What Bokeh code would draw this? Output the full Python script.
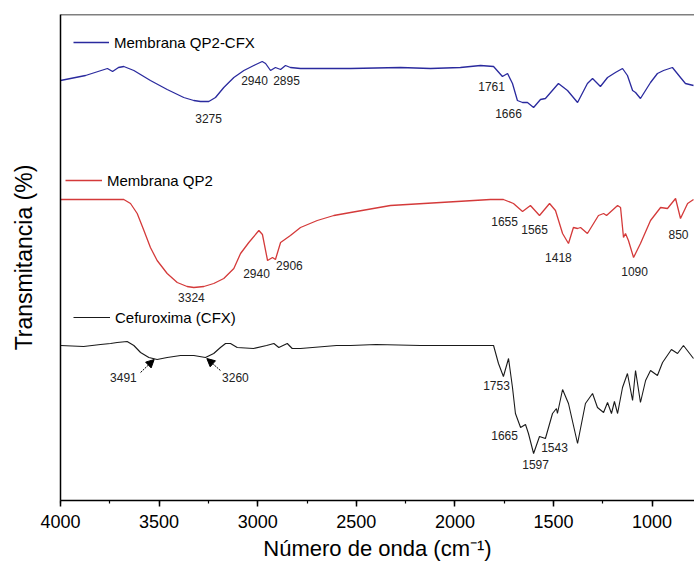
from bokeh.plotting import figure
from bokeh.models import (Range1d, SingleIntervalTicker, FixedTicker, Legend, LegendItem,
                          Span, Arrow, NormalHead, Label)
from bokeh.embed import file_html
from bokeh.resources import INLINE

# ---------------- data (wavenumber cm-1, transmittance in arbitrary offset units) -------------
qp2cfx_wn = [4000, 3873, 3762, 3736, 3706, 3679, 3628, 3544, 3459, 3375, 3324, 3290, 3248, 3214,
             3172, 3121, 3070, 3020, 2977, 2960, 2935, 2910, 2884, 2859, 2834, 2783, 2529, 2276,
             2124, 1972, 1870, 1804, 1759, 1733, 1708, 1683, 1657, 1632, 1601, 1566, 1541, 1475,
             1429, 1378, 1328, 1302, 1262, 1226, 1186, 1150, 1125, 1099, 1084, 1059, 1008, 973,
             942, 897, 856, 831, 790]
qp2cfx_t = [420, 425, 432, 429, 433, 434, 430, 420, 411, 403, 400, 399, 399, 403,
            413, 423, 430, 435, 439, 437, 430, 433, 431, 435, 433, 432, 432, 433,
            432, 433, 435, 434, 424, 427, 417, 400, 398, 398, 393, 401, 402, 417,
            410, 398, 417, 422, 414, 423, 428, 432, 425, 410, 408, 402, 418, 427,
            430, 433, 423, 417, 415]

qp2_wn = [4000, 3679, 3645, 3611, 3577, 3544, 3510, 3459, 3408, 3358, 3324, 3273, 3223, 3172,
          3121, 3087, 3045, 2994, 2976, 2950, 2925, 2910, 2884, 2834, 2783, 2698, 2614, 2529,
          2327, 2073, 1820, 1754, 1703, 1657, 1617, 1571, 1520, 1490, 1454, 1424, 1399, 1378,
          1363, 1328, 1272, 1246, 1231, 1175, 1160, 1145, 1135, 1120, 1094, 1059, 1008, 957,
          922, 881, 856, 820, 790]
qp2_t = [301, 301, 297, 287, 270, 253, 240, 227, 218, 214, 213, 214, 217, 222,
         232, 247, 258, 270, 266, 240, 243, 241, 258, 265, 273, 280, 285, 288,
         295, 298, 301, 301, 297, 289, 295, 285, 297, 290, 267, 257, 273, 272,
         273, 267, 285, 287, 285, 295, 293, 263, 267, 260, 243, 257, 280, 293,
         292, 302, 282, 297, 301]

cfx_wn = [4000, 3883, 3797, 3746, 3713, 3662, 3628, 3594, 3552, 3510, 3459, 3391, 3324, 3265,
          3223, 3189, 3163, 3138, 3104, 3021, 2955, 2918, 2893, 2850, 2825, 2783, 2600, 2529,
          2400, 2174, 2000, 1804, 1779, 1754, 1728, 1708, 1693, 1667, 1642, 1627, 1601, 1571,
          1541, 1505, 1485, 1480, 1454, 1424, 1378, 1338, 1302, 1277, 1246, 1226, 1206, 1191,
          1175, 1150, 1125, 1099, 1084, 1059, 1033, 1008, 973, 947, 902, 871, 841, 790]
cfx_t = [155, 154, 156, 157, 158, 159, 155, 148, 143, 141, 143, 145, 145, 143,
         147, 153, 157, 157, 153, 152, 155, 157, 153, 157, 152, 152, 155, 155,
         156, 155, 155, 155, 137, 124, 142, 113, 87, 73, 76, 67, 47, 64,
         62, 87, 92, 87, 111, 97, 57, 97, 107, 93, 88, 98, 87, 99,
         87, 113, 127, 100, 130, 98, 120, 130, 125, 138, 151, 147, 155, 142]

series_names = ["Membrana QP2-CFX", "Membrana QP2", "Cefuroxima (CFX)"]
x_ticks = [4000, 3500, 3000, 2500, 2000, 1500, 1000]

# peak annotations: (text, wavenumber position, y position)
qp2cfx_peaks = [("3275", 3249, 382), ("2940", 3016, 420), ("2895", 2854, 420),
                ("1761", 1814, 414), ("1666", 1728, 387)]
qp2_peaks = [("3324", 3336, 203), ("2940", 3006, 227), ("2906", 2839, 235),
             ("1655", 1748, 279), ("1565", 1596, 271), ("1418", 1475, 243),
             ("1090", 1089, 229), ("850", 866, 266)]
cfx_peaks = [("3491", 3681, 123), ("3260", 3113, 123), ("1753", 1789, 115),
             ("1665", 1748, 65), ("1543", 1495, 53), ("1597", 1591, 36)]
cfx_arrows = [((3594, 128), (3525, 141)), ((3189, 130), (3258, 142))]

# ---------------- figure -------------
FONT = "Liberation Sans"
p = figure(width=694, height=567, output_backend="svg", toolbar_location=None,
           x_range=Range1d(4000, 785), y_range=Range1d(0, 486),
           min_border_left=60, min_border_right=0, min_border_top=14, min_border_bottom=67)
p.outline_line_color = None
p.xgrid.visible = False
p.ygrid.visible = False
p.background_fill_color = "white"
p.border_fill_color = "white"

xa = p.xaxis[0]
xa.ticker = SingleIntervalTicker(interval=500, num_minor_ticks=2)
xa.major_tick_out = 6
xa.major_tick_in = 0
xa.minor_tick_out = 3
xa.minor_tick_in = 0
xa.axis_line_width = 1.5
xa.major_tick_line_width = 1.5
xa.minor_tick_line_width = 1.2
xa.major_label_text_font = FONT
xa.major_label_text_font_size = "18px"
xa.major_label_text_color = "black"
xa.major_label_standoff = 8
xa.axis_label = "Número de onda (cm\u207b\u00b9)"
xa.axis_label_text_font = FONT
xa.axis_label_text_font_size = "22px"
xa.axis_label_text_font_style = "normal"
xa.axis_label_text_color = "black"
xa.axis_label_standoff = 5

ya = p.yaxis[0]
ya.ticker = FixedTicker(ticks=[])
ya.axis_line_width = 1.5
ya.major_tick_line_color = None
ya.minor_tick_line_color = None
ya.major_label_text_font_size = "0px"
ya.axis_label = "Transmitancia (%)"
ya.axis_label_text_font = FONT
ya.axis_label_text_font_size = "23px"
ya.axis_label_text_font_style = "normal"
ya.axis_label_text_color = "black"
ya.axis_label_standoff = 24

p.add_layout(Span(location=486, dimension="width", line_color="black", line_width=1.5))

colors = ["#2a2a9e", "#d43a3a", "#1a1a1a"]
r1 = p.line(qp2cfx_wn, qp2cfx_t, line_color=colors[0], line_width=1.3)
r2 = p.line(qp2_wn, qp2_t, line_color=colors[1], line_width=1.3)
r3 = p.line(cfx_wn, cfx_t, line_color=colors[2], line_width=1.1)

legend_locs = [(13, 448), (5, 310), (13, 173)]
legend_glyph_w = [36, 37, 37]
for r, name, loc, gw in zip([r1, r2, r3], series_names, legend_locs, legend_glyph_w):
    lg = Legend(items=[LegendItem(label=name, renderers=[r])], location=loc,
                glyph_width=gw, glyph_height=20, label_height=20, label_standoff=5,
                label_text_font=FONT, label_text_font_size="15px", label_text_color="black",
                padding=0, margin=0, spacing=0, border_line_color=None,
                background_fill_alpha=0)
    p.add_layout(lg)

for peaks in [qp2cfx_peaks, qp2_peaks, cfx_peaks]:
    for txt, xw, yv in peaks:
        p.add_layout(Label(x=xw, y=yv, text=txt, text_align="center", text_baseline="middle",
                           text_font=FONT, text_font_size="12px", text_color="#222"))

for (x0, y0), (x1, y1) in cfx_arrows:
    p.add_layout(Arrow(x_start=x0, y_start=y0, x_end=x1, y_end=y1, line_color="black",
                       line_width=1, line_dash="2 1",
                       end=NormalHead(size=8, fill_color="black", line_color="black")))

open("out.html", "w").write(file_html(p, INLINE))
